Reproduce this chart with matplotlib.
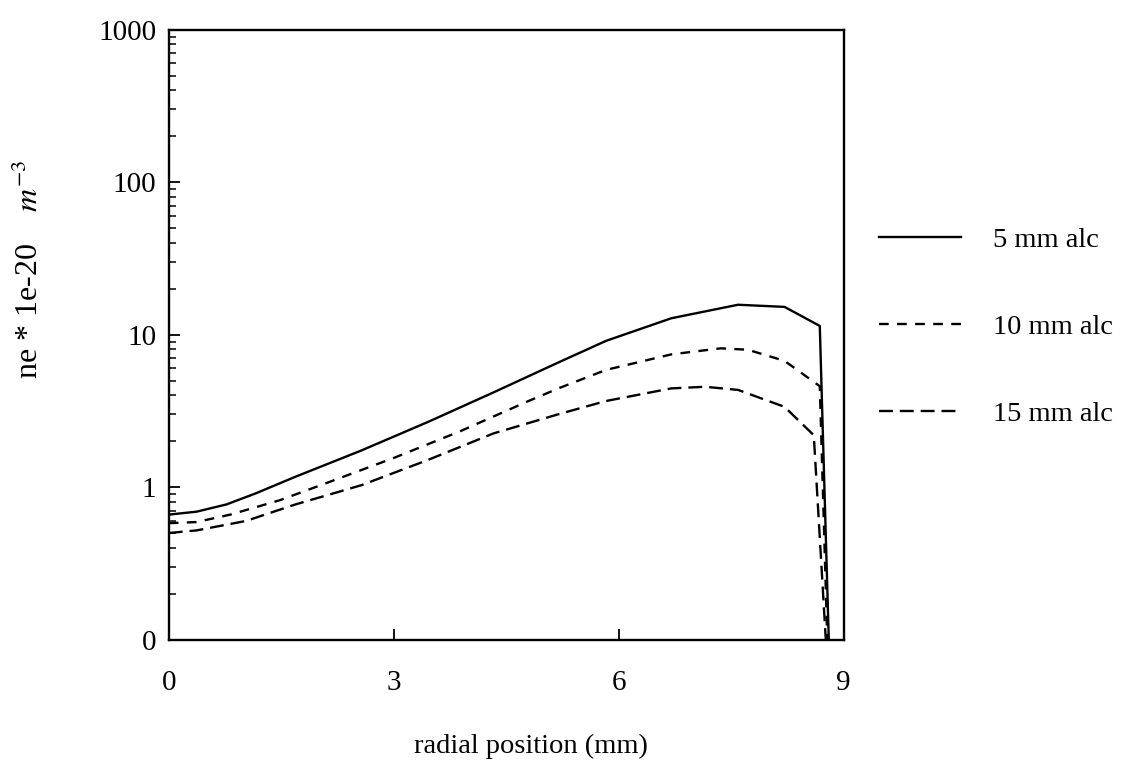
import matplotlib
matplotlib.use("Agg")
import matplotlib.pyplot as plt
from matplotlib.ticker import NullFormatter, LogLocator

plt.rcParams['font.family'] = ['Liberation Serif', 'DejaVu Serif']
plt.rcParams['mathtext.fontset'] = 'stix'
plt.rcParams['lines.scale_dashes'] = False

# data (radial position in mm, ne * 1e-20 m^-3)
x_5 = [0.0, 0.37, 0.77, 1.16, 1.69, 2.57, 3.46, 4.33, 5.21, 5.83, 6.70, 7.59, 8.21, 8.68, 8.80]
ne_5 = [0.66, 0.69, 0.77, 0.91, 1.17, 1.74, 2.68, 4.18, 6.62, 9.1, 12.8, 15.7, 15.2, 11.4, 0.1]

x_10 = [0.0, 0.37, 0.82, 1.48, 2.14, 3.01, 3.89, 4.78, 5.21, 5.83, 6.70, 7.36, 7.72, 8.21, 8.68, 8.78]
ne_10 = [0.58, 0.59, 0.66, 0.82, 1.08, 1.56, 2.33, 3.64, 4.47, 5.87, 7.42, 8.13, 7.96, 6.73, 4.59, 0.1]

x_15 = [0.0, 0.37, 1.03, 1.69, 2.57, 3.46, 4.33, 5.21, 5.83, 6.70, 7.15, 7.59, 8.21, 8.60, 8.76]
ne_15 = [0.50, 0.52, 0.60, 0.77, 1.03, 1.51, 2.25, 3.02, 3.67, 4.44, 4.55, 4.34, 3.36, 2.19, 0.1]

labels = ["5 mm alc", "10 mm alc", "15 mm alc"]
x_ticks = [0, 3, 6, 9]
y_ticks = [0.1, 1, 10, 100, 1000]
y_ticklabels = ["0", "1", "10", "100", "1000"]

fig = plt.figure(figsize=(11.48, 7.80), dpi=100)
ax = fig.add_axes([0.147, 0.180, 0.588, 0.782])

lw = 1.7
ax.plot(x_5, ne_5, color='black', lw=lw, label=labels[0])
ax.plot(x_10, ne_10, color='black', lw=lw, dashes=(7, 6), label=labels[1])
ax.plot(x_15, ne_15, color='black', lw=lw, dashes=(10, 5), label=labels[2])

ax.set_yscale('log')
ax.set_xlim(0, 9)
ax.set_ylim(0.1, 1000)
ax.set_yticks(y_ticks)
ax.set_yticklabels(y_ticklabels)
ax.yaxis.set_minor_locator(LogLocator(base=10, subs=range(2, 10)))
ax.yaxis.set_minor_formatter(NullFormatter())
ax.set_xticks(x_ticks)
ax.set_xticklabels([str(t) for t in x_ticks])

ax.tick_params(axis='both', which='major', direction='in', length=8, width=1.3,
               labelsize=21, right=False, top=False)
ax.tick_params(axis='y', which='major', pad=9)
ax.tick_params(axis='x', which='major', pad=22)
ax.tick_params(axis='y', which='minor', direction='in', length=5, width=1.1, right=False)

for s in ax.spines.values():
    s.set_linewidth(1.7)

ax.set_xlabel("radial position (mm)", fontsize=20.5, va='center')
ax.xaxis.set_label_coords(0.536, -0.175)
fig.text(0.026, 0.655, r"ne * 1e-20    $m^{-3}$", rotation=90, fontsize=23,
         ha='center', va='center')

leg = ax.legend(loc='upper left', bbox_to_anchor=(1.035, 0.695), frameon=False,
                fontsize=20.5, handlelength=2.9, handletextpad=1.1, labelspacing=2.15,
                borderaxespad=0)

fig.savefig("out.png", dpi=100)
